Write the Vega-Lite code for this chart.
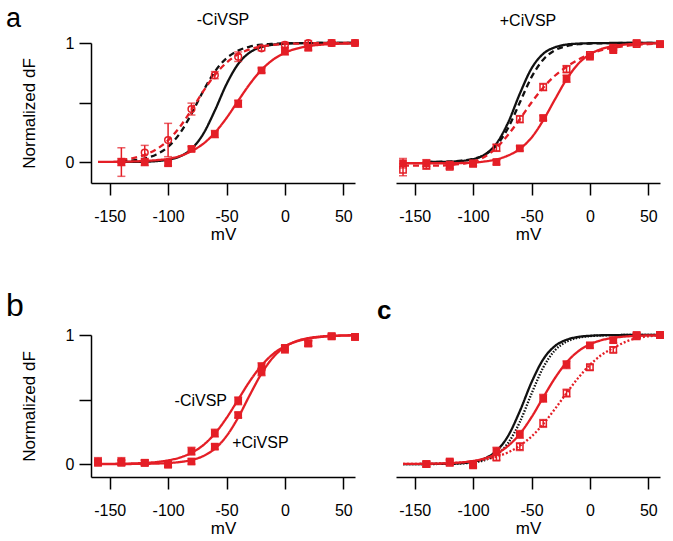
{
"$schema": "https://vega.github.io/schema/vega-lite/v6.json",
"autosize": {"type": "none"},
"padding": {"left": 91, "top": 43, "right": 582, "bottom": 498},
"background": "white",
"title": {"text": "a", "anchor": "start", "frame": "group", "fontSize": 27, "baseline": "alphabetic", "dx": -85, "offset": 0, "dy": 42},
"config": {
 "view": {"stroke": null},
 "font": "Liberation Sans",
 "axis": {"grid": false, "domainColor": "#000", "domainWidth": 1.5, "tickColor": "#000", "tickWidth": 1.5, "tickSize": 12, "labelFont": "Liberation Sans", "labelFontSize": 16, "labelColor": "#000", "titleFont": "Liberation Sans", "titleFontSize": 17, "titleFontWeight": "normal", "titleColor": "#000"},
 "axisX": {"labelPadding": 13, "titlePadding": 2},
 "axisY": {"labelPadding": 5, "titlePadding": 27},
 "title": {"font": "Liberation Sans", "fontWeight": "normal", "color": "#000"}
},
"datasets": {
"fit": [
{"panel":"a-","curve":"Probe A","mV":-160,"dF":0.001},{"panel":"a-","curve":"Probe A","mV":-150,"dF":0.002},{"panel":"a-","curve":"Probe A","mV":-140,"dF":0.003},{"panel":"a-","curve":"Probe A","mV":-130,"dF":0.005},{"panel":"a-","curve":"Probe A","mV":-120,"dF":0.009},{"panel":"a-","curve":"Probe A","mV":-110,"dF":0.016},{"panel":"a-","curve":"Probe A","mV":-100,"dF":0.027},{"panel":"a-","curve":"Probe A","mV":-90,"dF":0.05},{"panel":"a-","curve":"Probe A","mV":-80,"dF":0.092},{"panel":"a-","curve":"Probe A","mV":-70,"dF":0.153},{"panel":"a-","curve":"Probe A","mV":-60,"dF":0.246},{"panel":"a-","curve":"Probe A","mV":-50,"dF":0.37},{"panel":"a-","curve":"Probe A","mV":-40,"dF":0.515},{"panel":"a-","curve":"Probe A","mV":-30,"dF":0.656},{"panel":"a-","curve":"Probe A","mV":-20,"dF":0.775},{"panel":"a-","curve":"Probe A","mV":-10,"dF":0.861},{"panel":"a-","curve":"Probe A","mV":0,"dF":0.918},{"panel":"a-","curve":"Probe A","mV":10,"dF":0.953},{"panel":"a-","curve":"Probe A","mV":20,"dF":0.973},{"panel":"a-","curve":"Probe A","mV":30,"dF":0.985},{"panel":"a-","curve":"Probe A","mV":40,"dF":0.991},{"panel":"a-","curve":"Probe A","mV":50,"dF":0.995},{"panel":"a-","curve":"Probe A","mV":60,"dF":0.997},
{"panel":"a-","curve":"Probe B","mV":-140,"dF":0.018},{"panel":"a-","curve":"Probe B","mV":-130,"dF":0.033},{"panel":"a-","curve":"Probe B","mV":-120,"dF":0.06},{"panel":"a-","curve":"Probe B","mV":-110,"dF":0.107},{"panel":"a-","curve":"Probe B","mV":-100,"dF":0.182},{"panel":"a-","curve":"Probe B","mV":-90,"dF":0.294},{"panel":"a-","curve":"Probe B","mV":-80,"dF":0.438},{"panel":"a-","curve":"Probe B","mV":-70,"dF":0.593},{"panel":"a-","curve":"Probe B","mV":-60,"dF":0.731},{"panel":"a-","curve":"Probe B","mV":-50,"dF":0.835},{"panel":"a-","curve":"Probe B","mV":-40,"dF":0.905},{"panel":"a-","curve":"Probe B","mV":-30,"dF":0.947},{"panel":"a-","curve":"Probe B","mV":-20,"dF":0.971},{"panel":"a-","curve":"Probe B","mV":-10,"dF":0.984},{"panel":"a-","curve":"Probe B","mV":0,"dF":0.991},{"panel":"a-","curve":"Probe B","mV":10,"dF":0.995},{"panel":"a-","curve":"Probe B","mV":20,"dF":0.997},{"panel":"a-","curve":"Probe B","mV":30,"dF":0.999},{"panel":"a-","curve":"Probe B","mV":40,"dF":0.999},{"panel":"a-","curve":"Probe B","mV":50,"dF":1},{"panel":"a-","curve":"Probe B","mV":60,"dF":1},
{"panel":"a-","curve":"Ref B","mV":-140,"dF":0.007},{"panel":"a-","curve":"Ref B","mV":-130,"dF":0.014},{"panel":"a-","curve":"Ref B","mV":-120,"dF":0.031},{"panel":"a-","curve":"Ref B","mV":-110,"dF":0.064},{"panel":"a-","curve":"Ref B","mV":-100,"dF":0.128},{"panel":"a-","curve":"Ref B","mV":-90,"dF":0.24},{"panel":"a-","curve":"Ref B","mV":-80,"dF":0.405},{"panel":"a-","curve":"Ref B","mV":-70,"dF":0.595},{"panel":"a-","curve":"Ref B","mV":-60,"dF":0.76},{"panel":"a-","curve":"Ref B","mV":-50,"dF":0.872},{"panel":"a-","curve":"Ref B","mV":-40,"dF":0.936},{"panel":"a-","curve":"Ref B","mV":-30,"dF":0.97},{"panel":"a-","curve":"Ref B","mV":-20,"dF":0.986},{"panel":"a-","curve":"Ref B","mV":-10,"dF":0.993},{"panel":"a-","curve":"Ref B","mV":0,"dF":0.997},{"panel":"a-","curve":"Ref B","mV":10,"dF":0.999},{"panel":"a-","curve":"Ref B","mV":20,"dF":0.999},{"panel":"a-","curve":"Ref B","mV":30,"dF":1},{"panel":"a-","curve":"Ref B","mV":40,"dF":1},{"panel":"a-","curve":"Ref B","mV":50,"dF":1},{"panel":"a-","curve":"Ref B","mV":60,"dF":1},
{"panel":"a-","curve":"Ref A","mV":-140,"dF":0.001},{"panel":"a-","curve":"Ref A","mV":-130,"dF":0.001},{"panel":"a-","curve":"Ref A","mV":-120,"dF":0.003},{"panel":"a-","curve":"Ref A","mV":-110,"dF":0.008},{"panel":"a-","curve":"Ref A","mV":-100,"dF":0.02},{"panel":"a-","curve":"Ref A","mV":-90,"dF":0.047},{"panel":"a-","curve":"Ref A","mV":-80,"dF":0.11},{"panel":"a-","curve":"Ref A","mV":-70,"dF":0.235},{"panel":"a-","curve":"Ref A","mV":-60,"dF":0.432},{"panel":"a-","curve":"Ref A","mV":-50,"dF":0.654},{"panel":"a-","curve":"Ref A","mV":-40,"dF":0.824},{"panel":"a-","curve":"Ref A","mV":-30,"dF":0.921},{"panel":"a-","curve":"Ref A","mV":-20,"dF":0.967},{"panel":"a-","curve":"Ref A","mV":-10,"dF":0.986},{"panel":"a-","curve":"Ref A","mV":0,"dF":0.994},{"panel":"a-","curve":"Ref A","mV":10,"dF":0.998},{"panel":"a-","curve":"Ref A","mV":20,"dF":0.999},{"panel":"a-","curve":"Ref A","mV":30,"dF":1},{"panel":"a-","curve":"Ref A","mV":40,"dF":1},{"panel":"a-","curve":"Ref A","mV":50,"dF":1},{"panel":"a-","curve":"Ref A","mV":60,"dF":1},
{"panel":"a+","curve":"Probe A","mV":-160,"dF":-0.01},{"panel":"a+","curve":"Probe A","mV":-150,"dF":-0.01},{"panel":"a+","curve":"Probe A","mV":-140,"dF":-0.01},{"panel":"a+","curve":"Probe A","mV":-130,"dF":-0.01},{"panel":"a+","curve":"Probe A","mV":-120,"dF":-0.01},{"panel":"a+","curve":"Probe A","mV":-110,"dF":-0.008},{"panel":"a+","curve":"Probe A","mV":-100,"dF":-0.005},{"panel":"a+","curve":"Probe A","mV":-90,"dF":0.005},{"panel":"a+","curve":"Probe A","mV":-80,"dF":0.022},{"panel":"a+","curve":"Probe A","mV":-70,"dF":0.055},{"panel":"a+","curve":"Probe A","mV":-60,"dF":0.11},{"panel":"a+","curve":"Probe A","mV":-50,"dF":0.205},{"panel":"a+","curve":"Probe A","mV":-40,"dF":0.35},{"panel":"a+","curve":"Probe A","mV":-30,"dF":0.525},{"panel":"a+","curve":"Probe A","mV":-20,"dF":0.695},{"panel":"a+","curve":"Probe A","mV":-10,"dF":0.825},{"panel":"a+","curve":"Probe A","mV":0,"dF":0.905},{"panel":"a+","curve":"Probe A","mV":10,"dF":0.95},{"panel":"a+","curve":"Probe A","mV":20,"dF":0.975},{"panel":"a+","curve":"Probe A","mV":30,"dF":0.987},{"panel":"a+","curve":"Probe A","mV":40,"dF":0.993},{"panel":"a+","curve":"Probe A","mV":50,"dF":0.997},{"panel":"a+","curve":"Probe A","mV":60,"dF":0.998},
{"panel":"a+","curve":"Probe B","mV":-160,"dF":-0.03},{"panel":"a+","curve":"Probe B","mV":-150,"dF":-0.03},{"panel":"a+","curve":"Probe B","mV":-140,"dF":-0.03},{"panel":"a+","curve":"Probe B","mV":-130,"dF":-0.03},{"panel":"a+","curve":"Probe B","mV":-120,"dF":-0.025},{"panel":"a+","curve":"Probe B","mV":-110,"dF":-0.015},{"panel":"a+","curve":"Probe B","mV":-100,"dF":0.0},{"panel":"a+","curve":"Probe B","mV":-90,"dF":0.045},{"panel":"a+","curve":"Probe B","mV":-80,"dF":0.12},{"panel":"a+","curve":"Probe B","mV":-70,"dF":0.23},{"panel":"a+","curve":"Probe B","mV":-60,"dF":0.36},{"panel":"a+","curve":"Probe B","mV":-50,"dF":0.5},{"panel":"a+","curve":"Probe B","mV":-40,"dF":0.625},{"panel":"a+","curve":"Probe B","mV":-30,"dF":0.725},{"panel":"a+","curve":"Probe B","mV":-20,"dF":0.8},{"panel":"a+","curve":"Probe B","mV":-10,"dF":0.86},{"panel":"a+","curve":"Probe B","mV":0,"dF":0.905},{"panel":"a+","curve":"Probe B","mV":10,"dF":0.94},{"panel":"a+","curve":"Probe B","mV":20,"dF":0.96},{"panel":"a+","curve":"Probe B","mV":30,"dF":0.975},{"panel":"a+","curve":"Probe B","mV":40,"dF":0.985},{"panel":"a+","curve":"Probe B","mV":50,"dF":0.99},{"panel":"a+","curve":"Probe B","mV":60,"dF":0.995},
{"panel":"a+","curve":"Ref A","mV":-140,"dF":0.0005},{"panel":"a+","curve":"Ref A","mV":-130,"dF":0.001},{"panel":"a+","curve":"Ref A","mV":-120,"dF":0.003},{"panel":"a+","curve":"Ref A","mV":-110,"dF":0.009},{"panel":"a+","curve":"Ref A","mV":-100,"dF":0.024},{"panel":"a+","curve":"Ref A","mV":-90,"dF":0.063},{"panel":"a+","curve":"Ref A","mV":-80,"dF":0.155},{"panel":"a+","curve":"Ref A","mV":-70,"dF":0.332},{"panel":"a+","curve":"Ref A","mV":-60,"dF":0.574},{"panel":"a+","curve":"Ref A","mV":-50,"dF":0.786},{"panel":"a+","curve":"Ref A","mV":-40,"dF":0.909},{"panel":"a+","curve":"Ref A","mV":-30,"dF":0.964},{"panel":"a+","curve":"Ref A","mV":-20,"dF":0.987},{"panel":"a+","curve":"Ref A","mV":-10,"dF":0.995},{"panel":"a+","curve":"Ref A","mV":0,"dF":0.998},{"panel":"a+","curve":"Ref A","mV":10,"dF":0.999},{"panel":"a+","curve":"Ref A","mV":20,"dF":1},{"panel":"a+","curve":"Ref A","mV":30,"dF":1},{"panel":"a+","curve":"Ref A","mV":40,"dF":1},{"panel":"a+","curve":"Ref A","mV":50,"dF":1},{"panel":"a+","curve":"Ref A","mV":60,"dF":1},
{"panel":"a+","curve":"Ref B","mV":-140,"dF":0.001},{"panel":"a+","curve":"Ref B","mV":-130,"dF":0.002},{"panel":"a+","curve":"Ref B","mV":-120,"dF":0.004},{"panel":"a+","curve":"Ref B","mV":-110,"dF":0.011},{"panel":"a+","curve":"Ref B","mV":-100,"dF":0.026},{"panel":"a+","curve":"Ref B","mV":-90,"dF":0.061},{"panel":"a+","curve":"Ref B","mV":-80,"dF":0.14},{"panel":"a+","curve":"Ref B","mV":-70,"dF":0.287},{"panel":"a+","curve":"Ref B","mV":-60,"dF":0.5},{"panel":"a+","curve":"Ref B","mV":-50,"dF":0.713},{"panel":"a+","curve":"Ref B","mV":-40,"dF":0.86},{"panel":"a+","curve":"Ref B","mV":-30,"dF":0.939},{"panel":"a+","curve":"Ref B","mV":-20,"dF":0.974},{"panel":"a+","curve":"Ref B","mV":-10,"dF":0.99},{"panel":"a+","curve":"Ref B","mV":0,"dF":0.996},{"panel":"a+","curve":"Ref B","mV":10,"dF":0.998},{"panel":"a+","curve":"Ref B","mV":20,"dF":0.999},{"panel":"a+","curve":"Ref B","mV":30,"dF":1},{"panel":"a+","curve":"Ref B","mV":40,"dF":1},{"panel":"a+","curve":"Ref B","mV":50,"dF":1},{"panel":"a+","curve":"Ref B","mV":60,"dF":1},
{"panel":"b","curve":"Probe A","mV":-160,"dF":0.001},{"panel":"b","curve":"Probe A","mV":-150,"dF":0.002},{"panel":"b","curve":"Probe A","mV":-140,"dF":0.003},{"panel":"b","curve":"Probe A","mV":-130,"dF":0.005},{"panel":"b","curve":"Probe A","mV":-120,"dF":0.009},{"panel":"b","curve":"Probe A","mV":-110,"dF":0.016},{"panel":"b","curve":"Probe A","mV":-100,"dF":0.029},{"panel":"b","curve":"Probe A","mV":-90,"dF":0.05},{"panel":"b","curve":"Probe A","mV":-80,"dF":0.087},{"panel":"b","curve":"Probe A","mV":-70,"dF":0.146},{"panel":"b","curve":"Probe A","mV":-60,"dF":0.236},{"panel":"b","curve":"Probe A","mV":-50,"dF":0.357},{"panel":"b","curve":"Probe A","mV":-40,"dF":0.5},{"panel":"b","curve":"Probe A","mV":-30,"dF":0.643},{"panel":"b","curve":"Probe A","mV":-20,"dF":0.764},{"panel":"b","curve":"Probe A","mV":-10,"dF":0.854},{"panel":"b","curve":"Probe A","mV":0,"dF":0.913},{"panel":"b","curve":"Probe A","mV":10,"dF":0.95},{"panel":"b","curve":"Probe A","mV":20,"dF":0.972},{"panel":"b","curve":"Probe A","mV":30,"dF":0.984},{"panel":"b","curve":"Probe A","mV":40,"dF":0.991},{"panel":"b","curve":"Probe A","mV":50,"dF":0.995},{"panel":"b","curve":"Probe A","mV":60,"dF":0.997},
{"panel":"b","curve":"Probe D","mV":-160,"dF":0.0},{"panel":"b","curve":"Probe D","mV":-150,"dF":0.0},{"panel":"b","curve":"Probe D","mV":-140,"dF":0.0},{"panel":"b","curve":"Probe D","mV":-130,"dF":0.001},{"panel":"b","curve":"Probe D","mV":-120,"dF":0.002},{"panel":"b","curve":"Probe D","mV":-110,"dF":0.004},{"panel":"b","curve":"Probe D","mV":-100,"dF":0.008},{"panel":"b","curve":"Probe D","mV":-90,"dF":0.016},{"panel":"b","curve":"Probe D","mV":-80,"dF":0.031},{"panel":"b","curve":"Probe D","mV":-70,"dF":0.062},{"panel":"b","curve":"Probe D","mV":-60,"dF":0.119},{"panel":"b","curve":"Probe D","mV":-50,"dF":0.217},{"panel":"b","curve":"Probe D","mV":-40,"dF":0.361},{"panel":"b","curve":"Probe D","mV":-30,"dF":0.536},{"panel":"b","curve":"Probe D","mV":-20,"dF":0.702},{"panel":"b","curve":"Probe D","mV":-10,"dF":0.828},{"panel":"b","curve":"Probe D","mV":0,"dF":0.908},{"panel":"b","curve":"Probe D","mV":10,"dF":0.953},{"panel":"b","curve":"Probe D","mV":20,"dF":0.976},{"panel":"b","curve":"Probe D","mV":30,"dF":0.988},{"panel":"b","curve":"Probe D","mV":40,"dF":0.994},{"panel":"b","curve":"Probe D","mV":50,"dF":0.997},{"panel":"b","curve":"Probe D","mV":60,"dF":0.999},
{"panel":"c","curve":"Ref A","mV":-160,"dF":0.0},{"panel":"c","curve":"Ref A","mV":-150,"dF":0.0},{"panel":"c","curve":"Ref A","mV":-140,"dF":0.001},{"panel":"c","curve":"Ref A","mV":-130,"dF":0.001},{"panel":"c","curve":"Ref A","mV":-120,"dF":0.003},{"panel":"c","curve":"Ref A","mV":-110,"dF":0.007},{"panel":"c","curve":"Ref A","mV":-100,"dF":0.018},{"panel":"c","curve":"Ref A","mV":-90,"dF":0.044},{"panel":"c","curve":"Ref A","mV":-80,"dF":0.102},{"panel":"c","curve":"Ref A","mV":-70,"dF":0.219},{"panel":"c","curve":"Ref A","mV":-60,"dF":0.41},{"panel":"c","curve":"Ref A","mV":-50,"dF":0.633},{"panel":"c","curve":"Ref A","mV":-40,"dF":0.811},{"panel":"c","curve":"Ref A","mV":-30,"dF":0.914},{"panel":"c","curve":"Ref A","mV":-20,"dF":0.963},{"panel":"c","curve":"Ref A","mV":-10,"dF":0.985},{"panel":"c","curve":"Ref A","mV":0,"dF":0.994},{"panel":"c","curve":"Ref A","mV":10,"dF":0.998},{"panel":"c","curve":"Ref A","mV":20,"dF":0.999},{"panel":"c","curve":"Ref A","mV":30,"dF":1},{"panel":"c","curve":"Ref A","mV":40,"dF":1},{"panel":"c","curve":"Ref A","mV":50,"dF":1},{"panel":"c","curve":"Ref A","mV":60,"dF":1},
{"panel":"c","curve":"Ref C","mV":-160,"dF":0.0},{"panel":"c","curve":"Ref C","mV":-150,"dF":0.0},{"panel":"c","curve":"Ref C","mV":-140,"dF":0.0},{"panel":"c","curve":"Ref C","mV":-130,"dF":0.001},{"panel":"c","curve":"Ref C","mV":-120,"dF":0.002},{"panel":"c","curve":"Ref C","mV":-110,"dF":0.005},{"panel":"c","curve":"Ref C","mV":-100,"dF":0.013},{"panel":"c","curve":"Ref C","mV":-90,"dF":0.031},{"panel":"c","curve":"Ref C","mV":-80,"dF":0.073},{"panel":"c","curve":"Ref C","mV":-70,"dF":0.163},{"panel":"c","curve":"Ref C","mV":-60,"dF":0.326},{"panel":"c","curve":"Ref C","mV":-50,"dF":0.545},{"panel":"c","curve":"Ref C","mV":-40,"dF":0.748},{"panel":"c","curve":"Ref C","mV":-30,"dF":0.881},{"panel":"c","curve":"Ref C","mV":-20,"dF":0.948},{"panel":"c","curve":"Ref C","mV":-10,"dF":0.979},{"panel":"c","curve":"Ref C","mV":0,"dF":0.991},{"panel":"c","curve":"Ref C","mV":10,"dF":0.997},{"panel":"c","curve":"Ref C","mV":20,"dF":0.999},{"panel":"c","curve":"Ref C","mV":30,"dF":1},{"panel":"c","curve":"Ref C","mV":40,"dF":1},{"panel":"c","curve":"Ref C","mV":50,"dF":1},{"panel":"c","curve":"Ref C","mV":60,"dF":1},
{"panel":"c","curve":"Probe A","mV":-160,"dF":0.001},{"panel":"c","curve":"Probe A","mV":-150,"dF":0.001},{"panel":"c","curve":"Probe A","mV":-140,"dF":0.002},{"panel":"c","curve":"Probe A","mV":-130,"dF":0.004},{"panel":"c","curve":"Probe A","mV":-120,"dF":0.007},{"panel":"c","curve":"Probe A","mV":-110,"dF":0.013},{"panel":"c","curve":"Probe A","mV":-100,"dF":0.024},{"panel":"c","curve":"Probe A","mV":-90,"dF":0.045},{"panel":"c","curve":"Probe A","mV":-80,"dF":0.08},{"panel":"c","curve":"Probe A","mV":-70,"dF":0.141},{"panel":"c","curve":"Probe A","mV":-60,"dF":0.234},{"panel":"c","curve":"Probe A","mV":-50,"dF":0.363},{"panel":"c","curve":"Probe A","mV":-40,"dF":0.516},{"panel":"c","curve":"Probe A","mV":-30,"dF":0.665},{"panel":"c","curve":"Probe A","mV":-20,"dF":0.788},{"panel":"c","curve":"Probe A","mV":-10,"dF":0.874},{"panel":"c","curve":"Probe A","mV":0,"dF":0.928},{"panel":"c","curve":"Probe A","mV":10,"dF":0.96},{"panel":"c","curve":"Probe A","mV":20,"dF":0.978},{"panel":"c","curve":"Probe A","mV":30,"dF":0.988},{"panel":"c","curve":"Probe A","mV":40,"dF":0.994},{"panel":"c","curve":"Probe A","mV":50,"dF":0.997},{"panel":"c","curve":"Probe A","mV":60,"dF":0.998},
{"panel":"c","curve":"Probe C","mV":-160,"dF":0.001},{"panel":"c","curve":"Probe C","mV":-150,"dF":0.002},{"panel":"c","curve":"Probe C","mV":-140,"dF":0.003},{"panel":"c","curve":"Probe C","mV":-130,"dF":0.005},{"panel":"c","curve":"Probe C","mV":-120,"dF":0.008},{"panel":"c","curve":"Probe C","mV":-110,"dF":0.013},{"panel":"c","curve":"Probe C","mV":-100,"dF":0.022},{"panel":"c","curve":"Probe C","mV":-90,"dF":0.036},{"panel":"c","curve":"Probe C","mV":-80,"dF":0.057},{"panel":"c","curve":"Probe C","mV":-70,"dF":0.091},{"panel":"c","curve":"Probe C","mV":-60,"dF":0.142},{"panel":"c","curve":"Probe C","mV":-50,"dF":0.214},{"panel":"c","curve":"Probe C","mV":-40,"dF":0.31},{"panel":"c","curve":"Probe C","mV":-30,"dF":0.426},{"panel":"c","curve":"Probe C","mV":-20,"dF":0.55},{"panel":"c","curve":"Probe C","mV":-10,"dF":0.668},{"panel":"c","curve":"Probe C","mV":0,"dF":0.769},{"panel":"c","curve":"Probe C","mV":10,"dF":0.846},{"panel":"c","curve":"Probe C","mV":20,"dF":0.9},{"panel":"c","curve":"Probe C","mV":30,"dF":0.945},{"panel":"c","curve":"Probe C","mV":40,"dF":0.975},{"panel":"c","curve":"Probe C","mV":50,"dF":0.99},{"panel":"c","curve":"Probe C","mV":60,"dF":0.997}
],
"pts": [
{"panel":"a-","curve":"Probe A","mV":-140,"dF":0.0,"err":0.12},{"panel":"a-","curve":"Probe A","mV":-120,"dF":0.0,"err":0.03},{"panel":"a-","curve":"Probe A","mV":-100,"dF":-0.01,"err":0.02},{"panel":"a-","curve":"Probe A","mV":-80,"dF":0.11,"err":0.02},{"panel":"a-","curve":"Probe A","mV":-60,"dF":0.235,"err":0.03},{"panel":"a-","curve":"Probe A","mV":-40,"dF":0.49,"err":0.03},{"panel":"a-","curve":"Probe A","mV":-20,"dF":0.77,"err":0.02},{"panel":"a-","curve":"Probe A","mV":0,"dF":0.93,"err":0.03},{"panel":"a-","curve":"Probe A","mV":20,"dF":0.96,"err":0.02},{"panel":"a-","curve":"Probe A","mV":40,"dF":1.0,"err":0.01},{"panel":"a-","curve":"Probe A","mV":60,"dF":1.0,"err":0.01},
{"panel":"a-","curve":"Probe B","mV":-140,"dF":0.0,"err":0.03},{"panel":"a-","curve":"Probe B","mV":-120,"dF":0.08,"err":0.06},{"panel":"a-","curve":"Probe B","mV":-100,"dF":0.185,"err":0.14},{"panel":"a-","curve":"Probe B","mV":-80,"dF":0.445,"err":0.05},{"panel":"a-","curve":"Probe B","mV":-60,"dF":0.73,"err":0.03},{"panel":"a-","curve":"Probe B","mV":-40,"dF":0.885,"err":0.04},{"panel":"a-","curve":"Probe B","mV":-20,"dF":0.955,"err":0.02},{"panel":"a-","curve":"Probe B","mV":0,"dF":0.985,"err":0.02},{"panel":"a-","curve":"Probe B","mV":20,"dF":1.0,"err":0.02},{"panel":"a-","curve":"Probe B","mV":40,"dF":1.0,"err":0.01},{"panel":"a-","curve":"Probe B","mV":60,"dF":1.0,"err":0.01},
{"panel":"a+","curve":"Probe A","mV":-160,"dF":-0.01,"err":0.04},{"panel":"a+","curve":"Probe A","mV":-140,"dF":-0.01,"err":0.03},{"panel":"a+","curve":"Probe A","mV":-120,"dF":-0.025,"err":0.03},{"panel":"a+","curve":"Probe A","mV":-100,"dF":-0.01,"err":0.02},{"panel":"a+","curve":"Probe A","mV":-80,"dF":0.0,"err":0.02},{"panel":"a+","curve":"Probe A","mV":-60,"dF":0.115,"err":0.02},{"panel":"a+","curve":"Probe A","mV":-40,"dF":0.37,"err":0.02},{"panel":"a+","curve":"Probe A","mV":-20,"dF":0.7,"err":0.03},{"panel":"a+","curve":"Probe A","mV":0,"dF":0.885,"err":0.02},{"panel":"a+","curve":"Probe A","mV":20,"dF":0.94,"err":0.02},{"panel":"a+","curve":"Probe A","mV":40,"dF":1.0,"err":0.02},{"panel":"a+","curve":"Probe A","mV":60,"dF":0.99,"err":0.01},
{"panel":"a+","curve":"Probe B","mV":-160,"dF":-0.065,"err":0.05},{"panel":"a+","curve":"Probe B","mV":-140,"dF":-0.03,"err":0.03},{"panel":"a+","curve":"Probe B","mV":-120,"dF":-0.04,"err":0.02},{"panel":"a+","curve":"Probe B","mV":-100,"dF":-0.015,"err":0.02},{"panel":"a+","curve":"Probe B","mV":-80,"dF":0.12,"err":0.03},{"panel":"a+","curve":"Probe B","mV":-60,"dF":0.36,"err":0.03},{"panel":"a+","curve":"Probe B","mV":-40,"dF":0.63,"err":0.03},{"panel":"a+","curve":"Probe B","mV":-20,"dF":0.78,"err":0.03},{"panel":"a+","curve":"Probe B","mV":0,"dF":0.9,"err":0.02},{"panel":"a+","curve":"Probe B","mV":20,"dF":0.96,"err":0.02},{"panel":"a+","curve":"Probe B","mV":40,"dF":0.99,"err":0.01},{"panel":"a+","curve":"Probe B","mV":60,"dF":0.99,"err":0.01},
{"panel":"b","curve":"Probe A","mV":-160,"dF":0.02,"err":0.03},{"panel":"b","curve":"Probe A","mV":-140,"dF":0.02,"err":0.03},{"panel":"b","curve":"Probe A","mV":-120,"dF":0.01,"err":0.02},{"panel":"b","curve":"Probe A","mV":-100,"dF":0.0,"err":0.02},{"panel":"b","curve":"Probe A","mV":-80,"dF":0.1,"err":0.03},{"panel":"b","curve":"Probe A","mV":-60,"dF":0.24,"err":0.03},{"panel":"b","curve":"Probe A","mV":-40,"dF":0.49,"err":0.03},{"panel":"b","curve":"Probe A","mV":-20,"dF":0.755,"err":0.03},{"panel":"b","curve":"Probe A","mV":0,"dF":0.89,"err":0.03},{"panel":"b","curve":"Probe A","mV":20,"dF":0.935,"err":0.02},{"panel":"b","curve":"Probe A","mV":40,"dF":0.99,"err":0.02},{"panel":"b","curve":"Probe A","mV":60,"dF":0.985,"err":0.01},
{"panel":"b","curve":"Probe D","mV":-160,"dF":0.01,"err":0.02},{"panel":"b","curve":"Probe D","mV":-140,"dF":0.01,"err":0.02},{"panel":"b","curve":"Probe D","mV":-120,"dF":0.01,"err":0.02},{"panel":"b","curve":"Probe D","mV":-100,"dF":-0.005,"err":0.02},{"panel":"b","curve":"Probe D","mV":-80,"dF":0.02,"err":0.02},{"panel":"b","curve":"Probe D","mV":-60,"dF":0.135,"err":0.02},{"panel":"b","curve":"Probe D","mV":-40,"dF":0.38,"err":0.02},{"panel":"b","curve":"Probe D","mV":-20,"dF":0.715,"err":0.03},{"panel":"b","curve":"Probe D","mV":0,"dF":0.9,"err":0.02},{"panel":"b","curve":"Probe D","mV":20,"dF":0.935,"err":0.02},{"panel":"b","curve":"Probe D","mV":40,"dF":0.99,"err":0.01},{"panel":"b","curve":"Probe D","mV":60,"dF":0.985,"err":0.01},
{"panel":"c","curve":"Probe A","mV":-140,"dF":0.0,"err":0.02},{"panel":"c","curve":"Probe A","mV":-120,"dF":0.02,"err":0.02},{"panel":"c","curve":"Probe A","mV":-100,"dF":-0.01,"err":0.02},{"panel":"c","curve":"Probe A","mV":-80,"dF":0.1,"err":0.03},{"panel":"c","curve":"Probe A","mV":-60,"dF":0.23,"err":0.03},{"panel":"c","curve":"Probe A","mV":-40,"dF":0.51,"err":0.03},{"panel":"c","curve":"Probe A","mV":-20,"dF":0.77,"err":0.03},{"panel":"c","curve":"Probe A","mV":0,"dF":0.92,"err":0.02},{"panel":"c","curve":"Probe A","mV":20,"dF":0.96,"err":0.02},{"panel":"c","curve":"Probe A","mV":40,"dF":1.0,"err":0.02},{"panel":"c","curve":"Probe A","mV":60,"dF":1.0,"err":0.01},
{"panel":"c","curve":"Probe C","mV":-140,"dF":0.0,"err":0.02},{"panel":"c","curve":"Probe C","mV":-120,"dF":0.01,"err":0.02},{"panel":"c","curve":"Probe C","mV":-100,"dF":0.0,"err":0.02},{"panel":"c","curve":"Probe C","mV":-80,"dF":0.05,"err":0.02},{"panel":"c","curve":"Probe C","mV":-60,"dF":0.135,"err":0.03},{"panel":"c","curve":"Probe C","mV":-40,"dF":0.315,"err":0.03},{"panel":"c","curve":"Probe C","mV":-20,"dF":0.55,"err":0.03},{"panel":"c","curve":"Probe C","mV":0,"dF":0.75,"err":0.02},{"panel":"c","curve":"Probe C","mV":20,"dF":0.885,"err":0.02},{"panel":"c","curve":"Probe C","mV":40,"dF":0.99,"err":0.02},{"panel":"c","curve":"Probe C","mV":60,"dF":1.0,"err":0.01}
]
},
"columns": 2,
"bounds": "flush",
"spacing": {"row": 152, "column": 41},
"resolve": {"scale": {"x": "independent", "y": "independent", "color": "independent", "strokeDash": "independent"}},
"concat": [
{
 "width": 264, "height": 140,
 "title": {"text": "-CiVSP", "fontSize": 16, "baseline": "alphabetic", "offset": 12, "dy": 18, "anchor": "middle"},
 "encoding": {
  "x": {"field": "mV", "type": "quantitative", "scale": {"domain": [-166, 60], "nice": false, "zero": false}, "axis": {"values": [-150, -100, -50, 0, 50], "labelExpr": "'' + datum.value", "title": "mV"}},
  "y": {"field": "dF", "type": "quantitative", "scale": {"domain": [-0.176, 1], "nice": false, "zero": false}, "axis": {"values": [0, 0.5, 1], "labelExpr": "datum.value == 0 ? '0' : datum.value == 1 ? '1' : ''", "title": "Normalized dF"}}
 },
 "layer": [
  {"data": {"name": "fit"}, "transform": [{"filter": "datum.panel == 'a-' && indexof(datum.curve, 'Ref') == 0"}], "mark": {"type": "line", "strokeWidth": 2.3, "interpolate": "monotone"},
   "encoding": {"color": {"field": "curve", "type": "nominal", "scale": {"domain": ["Ref A","Ref B","Ref C","Probe A","Probe B","Probe C","Probe D"], "range": ["#111111","#111111","#111111","#e41e26","#e41e26","#e41e26","#e41e26"]}, "legend": null},
                "strokeDash": {"field": "curve", "type": "nominal", "scale": {"domain": ["Ref A","Ref B","Ref C","Probe A","Probe B","Probe C","Probe D"], "range": [[1,0],[6,4],[1.5,1.5],[1,0],[6,4],[2,2],[1,0]]}, "legend": null}}},
  {"data": {"name": "fit"}, "transform": [{"filter": "datum.panel == 'a-' && indexof(datum.curve, 'Probe') == 0"}], "mark": {"type": "line", "strokeWidth": 2.3, "interpolate": "monotone"},
   "encoding": {"color": {"field": "curve", "type": "nominal", "scale": {"domain": ["Ref A","Ref B","Ref C","Probe A","Probe B","Probe C","Probe D"], "range": ["#111111","#111111","#111111","#e41e26","#e41e26","#e41e26","#e41e26"]}, "legend": null},
                "strokeDash": {"field": "curve", "type": "nominal", "scale": {"domain": ["Ref A","Ref B","Ref C","Probe A","Probe B","Probe C","Probe D"], "range": [[1,0],[6,4],[1.5,1.5],[1,0],[6,4],[2,2],[1,0]]}, "legend": null}}},
  {"data": {"name": "pts"}, "transform": [{"filter": "datum.panel == 'a-'"}], "mark": {"type": "errorbar", "color": "#e41e26", "thickness": 1.5, "ticks": {"size": 8, "color": "#e41e26"}, "rule": {"color": "#e41e26"}}, "encoding": {"yError": {"field": "err"}}},
  {"data": {"name": "pts"}, "transform": [{"filter": "datum.panel == 'a-' && datum.curve == 'Probe A'"}], "mark": {"type": "point", "shape": "square", "filled": true, "size": 60, "color": "#e41e26", "opacity": 1}},
  {"data": {"name": "pts"}, "transform": [{"filter": "datum.panel == 'a-' && datum.curve == 'Probe B'"}], "mark": {"type": "point", "shape": "circle", "filled": false, "size": 45, "strokeWidth": 1.5, "color": "#e41e26", "opacity": 1}}
 ]
},
{
 "width": 264, "height": 140,
 "title": {"text": "+CiVSP", "fontSize": 16, "baseline": "alphabetic", "offset": 16, "dy": 20, "anchor": "middle"},
 "encoding": {
  "x": {"field": "mV", "type": "quantitative", "scale": {"domain": [-166, 60], "nice": false, "zero": false}, "axis": {"values": [-150, -100, -50, 0, 50], "labelExpr": "'' + datum.value", "title": "mV"}},
  "y": {"field": "dF", "type": "quantitative", "scale": {"domain": [-0.176, 1], "nice": false, "zero": false}, "axis": null}
 },
 "layer": [
  {"data": {"name": "fit"}, "transform": [{"filter": "datum.panel == 'a+' && indexof(datum.curve, 'Ref') == 0"}], "mark": {"type": "line", "strokeWidth": 2.3, "interpolate": "monotone"},
   "encoding": {"color": {"field": "curve", "type": "nominal", "scale": {"domain": ["Ref A","Ref B","Ref C","Probe A","Probe B","Probe C","Probe D"], "range": ["#111111","#111111","#111111","#e41e26","#e41e26","#e41e26","#e41e26"]}, "legend": null},
                "strokeDash": {"field": "curve", "type": "nominal", "scale": {"domain": ["Ref A","Ref B","Ref C","Probe A","Probe B","Probe C","Probe D"], "range": [[1,0],[6,4],[1.5,1.5],[1,0],[6,4],[2,2],[1,0]]}, "legend": null}}},
  {"data": {"name": "fit"}, "transform": [{"filter": "datum.panel == 'a+' && indexof(datum.curve, 'Probe') == 0"}], "mark": {"type": "line", "strokeWidth": 2.3, "interpolate": "monotone"},
   "encoding": {"color": {"field": "curve", "type": "nominal", "scale": {"domain": ["Ref A","Ref B","Ref C","Probe A","Probe B","Probe C","Probe D"], "range": ["#111111","#111111","#111111","#e41e26","#e41e26","#e41e26","#e41e26"]}, "legend": null},
                "strokeDash": {"field": "curve", "type": "nominal", "scale": {"domain": ["Ref A","Ref B","Ref C","Probe A","Probe B","Probe C","Probe D"], "range": [[1,0],[6,4],[1.5,1.5],[1,0],[6,4],[2,2],[1,0]]}, "legend": null}}},
  {"data": {"name": "pts"}, "transform": [{"filter": "datum.panel == 'a+'"}], "mark": {"type": "errorbar", "color": "#e41e26", "thickness": 1.5, "ticks": {"size": 8, "color": "#e41e26"}, "rule": {"color": "#e41e26"}}, "encoding": {"yError": {"field": "err"}}},
  {"data": {"name": "pts"}, "transform": [{"filter": "datum.panel == 'a+' && datum.curve == 'Probe A'"}], "mark": {"type": "point", "shape": "square", "filled": true, "size": 60, "color": "#e41e26", "opacity": 1}},
  {"data": {"name": "pts"}, "transform": [{"filter": "datum.panel == 'a+' && datum.curve == 'Probe B'"}], "mark": {"type": "point", "shape": "square", "filled": false, "size": 40, "strokeWidth": 1.5, "color": "#e41e26", "opacity": 1}}
 ]
},
{
 "width": 264, "height": 142,
 "title": {"text": "b", "fontSize": 32, "baseline": "alphabetic", "offset": 10, "dy": 31, "anchor": "start", "frame": "group", "dx": -85},
 "encoding": {
  "x": {"field": "mV", "type": "quantitative", "scale": {"domain": [-166, 60], "nice": false, "zero": false}, "axis": {"values": [-150, -100, -50, 0, 50], "labelExpr": "'' + datum.value", "title": "mV"}},
  "y": {"field": "dF", "type": "quantitative", "scale": {"domain": [-0.1, 1], "nice": false, "zero": false}, "axis": {"values": [0, 0.5, 1], "labelExpr": "datum.value == 0 ? '0' : datum.value == 1 ? '1' : ''", "title": "Normalized dF"}}
 },
 "layer": [
  {"data": {"name": "fit"}, "transform": [{"filter": "datum.panel == 'b'"}], "mark": {"type": "line", "strokeWidth": 2.3, "interpolate": "monotone"},
   "encoding": {"color": {"field": "curve", "type": "nominal", "scale": {"domain": ["Ref A","Ref B","Ref C","Probe A","Probe B","Probe C","Probe D"], "range": ["#111111","#111111","#111111","#e41e26","#e41e26","#e41e26","#e41e26"]}, "legend": null},
                "strokeDash": {"field": "curve", "type": "nominal", "scale": {"domain": ["Ref A","Ref B","Ref C","Probe A","Probe B","Probe C","Probe D"], "range": [[1,0],[6,4],[1.5,1.5],[1,0],[6,4],[2,2],[1,0]]}, "legend": null}}},
  {"data": {"name": "pts"}, "transform": [{"filter": "datum.panel == 'b'"}], "mark": {"type": "errorbar", "color": "#e41e26", "thickness": 1.5, "ticks": {"size": 8, "color": "#e41e26"}, "rule": {"color": "#e41e26"}}, "encoding": {"yError": {"field": "err"}}},
  {"data": {"name": "pts"}, "transform": [{"filter": "datum.panel == 'b'"}], "mark": {"type": "point", "shape": "square", "filled": true, "size": 60, "color": "#e41e26", "opacity": 1}},
  {"data": {"values": [{"label": "-CiVSP", "mV": -72, "dF": 0.485}, {"label": "+CiVSP", "mV": -21, "dF": 0.167}]}, "mark": {"type": "text", "fontSize": 16, "color": "#000", "font": "Liberation Sans"}, "encoding": {"text": {"field": "label", "type": "nominal"}}}
 ]
},
{
 "width": 264, "height": 142,
 "title": {"text": "c", "fontSize": 26, "fontWeight": "bold", "baseline": "alphabetic", "offset": 13, "dy": 29, "anchor": "start", "frame": "group", "dx": -19},
 "encoding": {
  "x": {"field": "mV", "type": "quantitative", "scale": {"domain": [-166, 60], "nice": false, "zero": false}, "axis": {"values": [-150, -100, -50, 0, 50], "labelExpr": "'' + datum.value", "title": "mV"}},
  "y": {"field": "dF", "type": "quantitative", "scale": {"domain": [-0.1, 1], "nice": false, "zero": false}, "axis": null}
 },
 "layer": [
  {"data": {"name": "fit"}, "transform": [{"filter": "datum.panel == 'c' && indexof(datum.curve, 'Ref') == 0"}], "mark": {"type": "line", "strokeWidth": 2.3, "interpolate": "monotone"},
   "encoding": {"color": {"field": "curve", "type": "nominal", "scale": {"domain": ["Ref A","Ref B","Ref C","Probe A","Probe B","Probe C","Probe D"], "range": ["#111111","#111111","#111111","#e41e26","#e41e26","#e41e26","#e41e26"]}, "legend": null},
                "strokeDash": {"field": "curve", "type": "nominal", "scale": {"domain": ["Ref A","Ref B","Ref C","Probe A","Probe B","Probe C","Probe D"], "range": [[1,0],[6,4],[1.5,1.5],[1,0],[6,4],[2,2],[1,0]]}, "legend": null}}},
  {"data": {"name": "fit"}, "transform": [{"filter": "datum.panel == 'c' && indexof(datum.curve, 'Probe') == 0"}], "mark": {"type": "line", "strokeWidth": 2.3, "interpolate": "monotone"},
   "encoding": {"color": {"field": "curve", "type": "nominal", "scale": {"domain": ["Ref A","Ref B","Ref C","Probe A","Probe B","Probe C","Probe D"], "range": ["#111111","#111111","#111111","#e41e26","#e41e26","#e41e26","#e41e26"]}, "legend": null},
                "strokeDash": {"field": "curve", "type": "nominal", "scale": {"domain": ["Ref A","Ref B","Ref C","Probe A","Probe B","Probe C","Probe D"], "range": [[1,0],[6,4],[1.5,1.5],[1,0],[6,4],[2,2],[1,0]]}, "legend": null}}},
  {"data": {"name": "pts"}, "transform": [{"filter": "datum.panel == 'c'"}], "mark": {"type": "errorbar", "color": "#e41e26", "thickness": 1.5, "ticks": {"size": 8, "color": "#e41e26"}, "rule": {"color": "#e41e26"}}, "encoding": {"yError": {"field": "err"}}},
  {"data": {"name": "pts"}, "transform": [{"filter": "datum.panel == 'c' && datum.curve == 'Probe A'"}], "mark": {"type": "point", "shape": "square", "filled": true, "size": 60, "color": "#e41e26", "opacity": 1}},
  {"data": {"name": "pts"}, "transform": [{"filter": "datum.panel == 'c' && datum.curve == 'Probe C'"}], "mark": {"type": "point", "shape": "square", "filled": false, "size": 40, "strokeWidth": 1.5, "color": "#e41e26", "opacity": 1}}
 ]
}
]
}
